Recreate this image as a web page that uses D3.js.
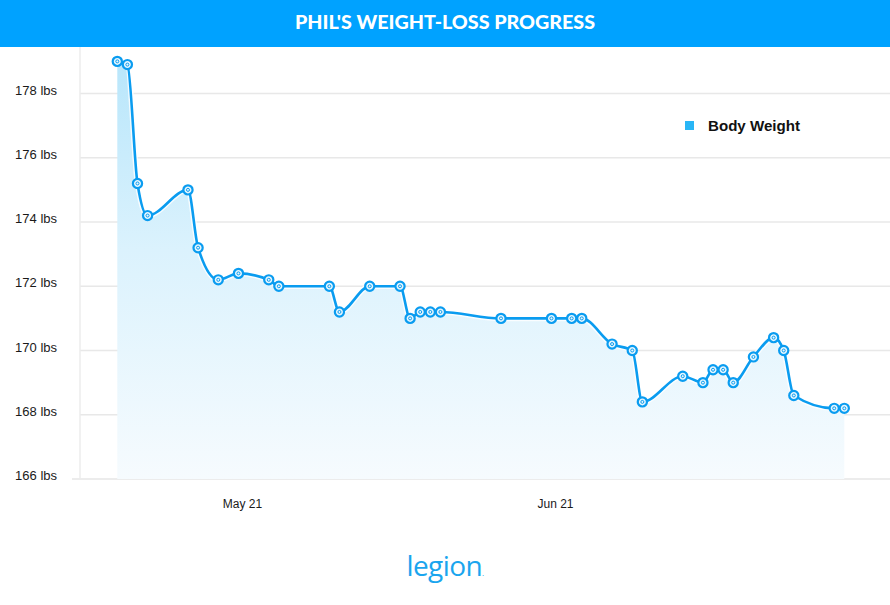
<!DOCTYPE html>
<html>
<head>
<meta charset="utf-8">
<script src="https://cdn.jsdelivr.net/npm/d3@7"></script>
<style>
  html, body { margin: 0; padding: 0; background: #fff; }
  svg { display: block; }
</style>
</head>
<body>
<svg id="chart" width="890" height="605"></svg>
<script>
// ---- Data ----
const dates = [
  "2021-05-09","2021-05-10","2021-05-11","2021-05-12","2021-05-16","2021-05-17",
  "2021-05-19","2021-05-21","2021-05-24","2021-05-25","2021-05-30","2021-05-31",
  "2021-06-03","2021-06-06","2021-06-07","2021-06-08","2021-06-09","2021-06-10",
  "2021-06-16","2021-06-21","2021-06-23","2021-06-24","2021-06-27","2021-06-29",
  "2021-06-30","2021-07-04","2021-07-06","2021-07-07","2021-07-08","2021-07-09",
  "2021-07-11","2021-07-13","2021-07-14","2021-07-15","2021-07-19","2021-07-20"
];
const weights = [
  179.0, 178.9, 175.2, 174.2, 175.0, 173.2,
  172.2, 172.4, 172.2, 172.0, 172.0, 171.2,
  172.0, 172.0, 171.0, 171.2, 171.2, 171.2,
  171.0, 171.0, 171.0, 171.0, 170.2, 170.0,
  168.4, 169.2, 169.0, 169.4, 169.4, 169.0,
  169.8, 170.4, 170.0, 168.6, 168.2, 168.2
];
const yTicks = [166, 168, 170, 172, 174, 176, 178];
const xTickDates = ["2021-05-21", "2021-06-21"];
const title = "PHIL'S WEIGHT-LOSS PROGRESS";
const seriesName = "Body Weight";

// ---- Setup ----
const W = 890, H = 605;
const parse = d3.utcParse("%Y-%m-%d");
const data = dates.map((d, i) => ({ date: parse(d), value: weights[i] }));

const svg = d3.select("#chart");
const lineColor = "#0a9cf0";

// title bar
svg.append("rect").attr("x", 0).attr("y", 0).attr("width", W).attr("height", 47).attr("fill", "#00a2ff");
svg.append("text")
  .attr("x", W / 2).attr("y", 29)
  .attr("text-anchor", "middle")
  .attr("fill", "#fff")
  .attr("font-family", "Lato, 'Open Sans', sans-serif")
  .attr("font-weight", 900)
  .attr("font-size", 19)
  .attr("textLength", 300)
  .attr("lengthAdjust", "spacingAndGlyphs")
  .text(title);

const plotLeft = 80, plotRight = 890, plotBottom = 479;

const x = d3.scaleUtc()
  .domain(d3.extent(data, d => d.date))
  .range([117.3, 844.3]);
const y = d3.scaleLinear().domain([166, 178]).range([479, 93.5]);

// gridlines
svg.append("g").selectAll("line").data(yTicks.filter(t => t !== 166)).join("line")
  .attr("x1", plotLeft).attr("x2", plotRight)
  .attr("y1", d => y(d)).attr("y2", d => y(d))
  .attr("stroke", "#e8e8e8").attr("stroke-width", 1.5);

// left axis line
svg.append("line").attr("x1", plotLeft).attr("x2", plotLeft)
  .attr("y1", 47).attr("y2", plotBottom)
  .attr("stroke", "#ececec").attr("stroke-width", 1.5);
// bottom axis line
svg.append("line").attr("x1", 72).attr("x2", plotRight)
  .attr("y1", plotBottom).attr("y2", plotBottom)
  .attr("stroke", "#ececec").attr("stroke-width", 2);

// y labels
svg.append("g").selectAll("text").data(yTicks).join("text")
  .attr("x", 57).attr("y", d => y(d) - 3.5)
  .attr("dy", "0.35em")
  .attr("text-anchor", "end")
  .attr("fill", "#1a1a1a")
  .attr("font-family", "'Liberation Sans', Arial, sans-serif")
  .attr("font-size", 13)
  .text(d => d + " lbs");

// x labels
const fmt = d3.utcFormat("%b %d");
svg.append("g").selectAll("text").data(xTickDates.map(parse)).join("text")
  .attr("x", d => x(d) + 4).attr("y", 504)
  .attr("dy", "0.35em")
  .attr("text-anchor", "middle")
  .attr("fill", "#1a1a1a")
  .attr("font-family", "'Liberation Sans', Arial, sans-serif")
  .attr("font-size", 12)
  .text(d => fmt(d));

// gradient
const defs = svg.append("defs");
const grad = defs.append("linearGradient").attr("id", "areaGrad")
  .attr("gradientUnits", "userSpaceOnUse")
  .attr("x1", 0).attr("x2", 0).attr("y1", y(179)).attr("y2", plotBottom);
grad.append("stop").attr("offset", "0%").attr("stop-color", "#b8e6fb");
grad.append("stop").attr("offset", "45%").attr("stop-color", "#dbf2fd");
grad.append("stop").attr("offset", "100%").attr("stop-color", "#f6fbfe");

const curve = d3.curveMonotoneX;
const area = d3.area().x(d => x(d.date)).y0(y(166)).y1(d => y(d.value)).curve(curve);
const line = d3.line().x(d => x(d.date)).y(d => y(d.value)).curve(curve);

svg.append("path").datum(data).attr("d", area).attr("fill", "url(#areaGrad)");
svg.append("path").datum(data).attr("d", line)
  .attr("fill", "none").attr("stroke", "#fff").attr("stroke-width", 5.5).attr("stroke-opacity", 0.8);
svg.append("path").datum(data).attr("d", line)
  .attr("fill", "none").attr("stroke", lineColor).attr("stroke-width", 2.6);

// markers
const mk = svg.append("g").selectAll("g").data(data).join("g")
  .attr("transform", d => `translate(${x(d.date)},${y(d.value)})`);
mk.append("circle").attr("r", 4.6).attr("fill", "#e6f6fe").attr("stroke", lineColor).attr("stroke-width", 2.2);
mk.append("circle").attr("r", 1.5).attr("fill", "none").attr("stroke", lineColor).attr("stroke-width", 1);

// legend
svg.append("rect").attr("x", 685).attr("y", 121).attr("width", 9).attr("height", 9).attr("fill", "#29b6f6");
svg.append("text").attr("x", 708).attr("y", 126).attr("dy", "0.35em")
  .attr("fill", "#111")
  .attr("font-family", "'Liberation Sans', Arial, sans-serif")
  .attr("font-weight", "bold").attr("font-size", 14)
  .attr("textLength", 92).attr("lengthAdjust", "spacingAndGlyphs")
  .text(seriesName);

// logo
const logo = svg.append("text").attr("x", W / 2).attr("y", 576)
  .attr("text-anchor", "middle")
  .attr("fill", "#1aa5ee")
  .attr("font-family", "'Open Sans', Lato, sans-serif")
  .attr("font-size", 28)
  .attr("letter-spacing", -0.6);
logo.append("tspan").text("legion");
logo.append("tspan").attr("font-size", 8).text(".");
</script>
</body>
</html>
